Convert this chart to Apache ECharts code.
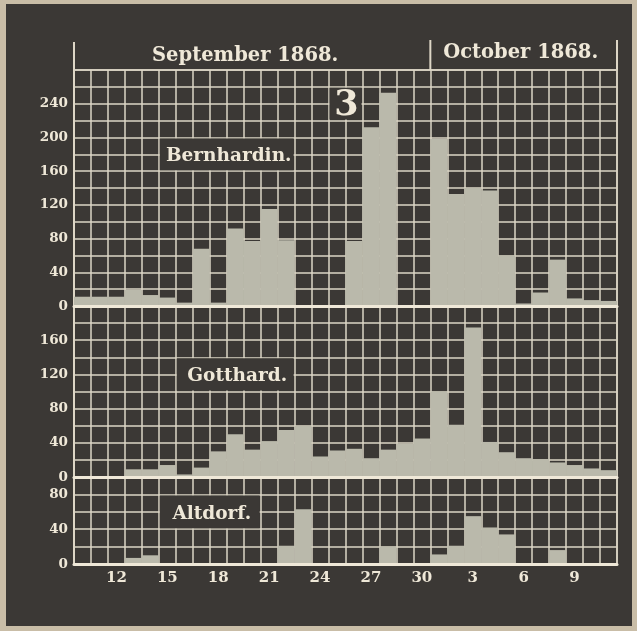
<!DOCTYPE html>
<html>
<head>
<meta charset="utf-8">
<script src="https://cdn.jsdelivr.net/npm/echarts@6/dist/echarts.min.js"></script>
<style>
  html, body { margin: 0; padding: 0; background: #c9bda7; }
  #chart { width: 637px; height: 631px; }
</style>
</head>
<body>
<div id="chart"></div>
<script>
// Daily readings, 10 September – 11 October 1868
const days = [
  'Sep 10', 'Sep 11', 'Sep 12', 'Sep 13', 'Sep 14', 'Sep 15', 'Sep 16', 'Sep 17',
  'Sep 18', 'Sep 19', 'Sep 20', 'Sep 21', 'Sep 22', 'Sep 23', 'Sep 24', 'Sep 25',
  'Sep 26', 'Sep 27', 'Sep 28', 'Sep 29', 'Sep 30', 'Oct 1', 'Oct 2', 'Oct 3',
  'Oct 4', 'Oct 5', 'Oct 6', 'Oct 7', 'Oct 8', 'Oct 9', 'Oct 10', 'Oct 11'
];
const dayTicks = ['Sep 12', 'Sep 15', 'Sep 18', 'Sep 21', 'Sep 24', 'Sep 27', 'Sep 30', 'Oct 3', 'Oct 6', 'Oct 9'];

const bernhardin = [11, 11, 11, 19, 13, 10, 4, 68, 4, 92, 77, 115, 78, 0, 0, 0,
                    77, 212, 253, 0, 0, 198, 133, 140, 137, 60, 3, 16, 55, 9, 7, 6];
const gotthard   = [0, 0, 0, 9, 9, 14, 3, 11, 30, 50, 32, 42, 55, 60, 24, 31,
                    33, 22, 32, 39, 45, 100, 61, 175, 41, 29, 22, 21, 17, 14, 10, 8];
const altdorf    = [0, 0, 0, 7, 10, 0, 0, 0, 0, 0, 0, 0, 21, 63, 0, 0,
                    0, 0, 20, 0, 0, 11, 21, 55, 42, 34, 0, 0, 16, 0, 0, 0];

const stations = ['Bernhardin.', 'Gotthard.', 'Altdorf.'];
const monthTitles = ['September 1868.', 'October 1868.'];
const plateNumber = '3';

// Colours
const INK = '#3b3835';
const PAPER = '#c9bda7';
const RULE = '#ddd6c6';
const CREAM = '#efe8d8';
const FILL = '#bab9ab';
const SERIF = '"DejaVu Serif", "Liberation Serif", serif';

// Layout of the three stacked panels
const LEFT = 74, RIGHT = 20;
const panels = [
  { values: bernhardin, max: 280, top: 70,  height: 236, box: [5, 12, 160, 200] },
  { values: gotthard,   max: 200, top: 306, height: 171, box: [6, 12, 100, 140] },
  { values: altdorf,    max: 100, top: 477, height: 87,  box: [5, 10, 40, 80] }
];

const chart = echarts.init(document.getElementById('chart'), null, { renderer: 'canvas' });

const grid = [], xAxis = [], yAxis = [], series = [];
panels.forEach((p, i) => {
  grid.push({
    left: LEFT, right: RIGHT, top: p.top, height: p.height,
    containLabel: false, outerBoundsMode: 'none',
    show: true, borderColor: RULE, borderWidth: 1.5, backgroundColor: 'transparent'
  });
  const last = i === panels.length - 1;
  // main category axis: vertical rules + day labels
  xAxis.push({
    type: 'category', gridIndex: i, data: days, boundaryGap: true, position: 'bottom',
    axisLine: { show: false }, axisTick: { show: false },
    splitLine: { show: true, interval: 0, lineStyle: { color: RULE, width: 1.5 } },
    axisLabel: {
      show: last, interval: (idx, v) => dayTicks.includes(v),
      formatter: v => v.split(' ')[1],
      color: CREAM, fontFamily: SERIF, fontWeight: 'bold', fontSize: 15, margin: 7
    }
  });
  // zero line drawn above the bars
  xAxis.push({
    type: 'category', gridIndex: i, data: days, position: 'bottom', z: 10,
    axisLine: { show: true, lineStyle: { color: CREAM, width: 3 } },
    axisTick: { show: false }, axisLabel: { show: false }, splitLine: { show: false }
  });
  yAxis.push({
    type: 'value', gridIndex: i, min: 0, max: p.max, interval: 20,
    axisLine: { show: true, lineStyle: { color: RULE, width: 2 } },
    axisTick: { show: false },
    splitLine: { show: true, lineStyle: { color: RULE, width: 1.5 } },
    axisLabel: {
      formatter: v => (v % 40 === 0 && v < p.max) ? String(v) : '',
      color: CREAM, fontFamily: SERIF, fontWeight: 'bold', fontSize: 13.5, margin: 6
    }
  });
  series.push({
    type: 'bar', xAxisIndex: i * 2, yAxisIndex: i, data: p.values,
    barCategoryGap: '0%', barGap: '0%', silent: true, animation: false,
    itemStyle: { color: FILL }
  });
});

chart.setOption({
  backgroundColor: PAPER,
  animation: false,
  grid, xAxis, yAxis, series
});

// Frame, headings and station name plates
const px = (panel, idx, v) => chart.convertToPixel({ xAxisIndex: panel * 2, yAxisIndex: panel }, [idx, v]);
const band = (637 - LEFT - RIGHT) / days.length;
const rightEdge = 637 - RIGHT;
const octStart = px(0, days.indexOf('Oct 1'), 0)[0] - band / 2;
const gridTop = panels[0].top;

function plate(panel, box, text, fontSize, dx, dy) {
  const [from, to, lo, hi] = box;
  const a = px(panel, from, hi), b = px(panel, to, lo);
  const x0 = a[0] - band / 2 + 1, x1 = b[0] + band / 2 - 1;
  const y0 = a[1] + 1, y1 = b[1] - 1;
  return [
    { type: 'rect', z: 20, shape: { x: x0, y: y0, width: x1 - x0, height: y1 - y0 }, style: { fill: INK } },
    { type: 'text', z: 21, x: (x0 + x1) / 2 + (dx || 0), y: (y0 + y1) / 2 + (dy || 0),
      style: { text, fill: CREAM, font: `bold ${fontSize}px ${SERIF}`, align: 'center', verticalAlign: 'middle' } }
  ];
}

const graphic = [
  { type: 'rect', z: -10, shape: { x: 6, y: 4, width: 626, height: 622 }, style: { fill: INK } },
  { type: 'line', z: 5, shape: { x1: LEFT, y1: 42, x2: LEFT, y2: gridTop }, style: { stroke: RULE, lineWidth: 2 } },
  { type: 'line', z: 5, shape: { x1: octStart, y1: 40, x2: octStart, y2: gridTop }, style: { stroke: RULE, lineWidth: 2 } },
  { type: 'line', z: 5, shape: { x1: rightEdge, y1: 40, x2: rightEdge, y2: gridTop }, style: { stroke: RULE, lineWidth: 2 } },
  { type: 'text', z: 5, x: (LEFT + octStart) / 2 - 7, y: 56,
    style: { text: monthTitles[0], fill: CREAM, font: `bold 19.5px ${SERIF}`, align: 'center', verticalAlign: 'middle' } },
  { type: 'text', z: 5, x: (octStart + rightEdge) / 2 - 3, y: 53,
    style: { text: monthTitles[1], fill: CREAM, font: `bold 19.5px ${SERIF}`, align: 'center', verticalAlign: 'middle' } }
];
panels.forEach((p, i) => graphic.push(...plate(i, p.box, stations[i], 18.5, 2, 2)));
graphic.push(...plate(0, [15, 16, 220, 260], plateNumber, 35, 1, 2));

chart.setOption({ graphic });
</script>
</body>
</html>
